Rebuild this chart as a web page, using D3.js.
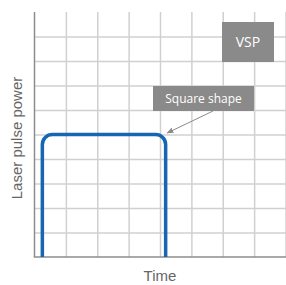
<!DOCTYPE html>
<html>
<head>
<meta charset="utf-8">
<script src="https://cdn.jsdelivr.net/npm/d3@7"></script>
<style>
  html, body { margin: 0; padding: 0; background: #fff; }
  svg { display: block; }
  .grid line { stroke: #d0d0d0; stroke-width: 1.5; }
  .grid path { display: none; }
</style>
</head>
<body>
<div id="chart"></div>
<script>
  // grid divisions (time columns, power rows)
  const timeTicks = [1, 2, 3, 4, 5, 6, 7, 8];
  const powerTicks = [1, 2, 3, 4, 5, 6, 7, 8, 9];

  // square pulse: [time, power]
  const pulsePoints = [[0.25, 0], [0.25, 5.0], [4.18, 5.0], [4.18, 0]];

  const labels = { x: "Time", y: "Laser pulse power", badge: "VSP", note: "Square shape" };

  const width = 286, height = 285;
  const margin = { top: 12, right: 0, bottom: 28, left: 34.5 };

  const x = d3.scaleLinear().domain([0, 8]).range([margin.left, width - margin.right - 0.5]);
  const y = d3.scaleLinear().domain([0, 10]).range([height - margin.bottom, margin.top]);

  const svg = d3.select("#chart").append("svg")
    .attr("width", width)
    .attr("height", height);

  // vertical grid
  svg.append("g").attr("class", "grid")
    .attr("transform", "translate(0," + y(0) + ")")
    .call(d3.axisBottom(x).tickValues(timeTicks).tickSize(-(y(0) - y(10))).tickFormat(""));

  // horizontal grid
  svg.append("g").attr("class", "grid")
    .attr("transform", "translate(" + x(0) + ",0)")
    .call(d3.axisLeft(y).tickValues(powerTicks).tickSize(-(x(8) - x(0) + 1)).tickFormat(""));

  // axes
  svg.append("line")
    .attr("x1", x(0)).attr("x2", x(0))
    .attr("y1", y(10)).attr("y2", y(0))
    .attr("stroke", "#8c8c8c").attr("stroke-width", 1.5);
  svg.append("line")
    .attr("x1", x(0) - 0.75).attr("x2", width)
    .attr("y1", y(0)).attr("y2", y(0))
    .attr("stroke", "#8c8c8c").attr("stroke-width", 1.5);

  // pulse with rounded top corners
  const r = 10;
  const p = d3.path();
  const pts = pulsePoints.map(d => [x(d[0]), y(d[1])]);
  p.moveTo(pts[0][0], pts[0][1]);
  p.arcTo(pts[1][0], pts[1][1], pts[2][0], pts[2][1], r);
  p.arcTo(pts[2][0], pts[2][1], pts[3][0], pts[3][1], r);
  p.lineTo(pts[3][0], pts[3][1]);
  svg.append("path")
    .attr("d", p.toString())
    .attr("fill", "none")
    .attr("stroke", "#1666b4")
    .attr("stroke-width", 3.5);

  // VSP badge
  const badge = svg.append("g");
  badge.append("rect")
    .attr("x", 222).attr("y", 22).attr("width", 52).attr("height", 40)
    .attr("fill", "#8a8a8a");
  badge.append("text")
    .attr("x", 248).attr("y", 42).attr("dy", "0.35em")
    .attr("text-anchor", "middle")
    .attr("fill", "#fff")
    .attr("font-family", "'Open Sans', sans-serif")
    .attr("font-size", 14)
    .text(labels.badge);

  // annotation
  svg.append("defs").append("marker")
    .attr("id", "arrow")
    .attr("viewBox", "0 0 10 10")
    .attr("refX", 9).attr("refY", 5)
    .attr("markerWidth", 7).attr("markerHeight", 7)
    .attr("orient", "auto")
    .append("path")
    .attr("d", "M0,1 L10,5 L0,9 Z")
    .attr("fill", "#8a8a8a");

  svg.append("line")
    .attr("x1", 213).attr("y1", 111)
    .attr("x2", x(pulsePoints[2][0]) + 1.5).attr("y2", y(pulsePoints[2][1]) - 1.5)
    .attr("stroke", "#8a8a8a").attr("stroke-width", 1)
    .attr("marker-end", "url(#arrow)");

  const note = svg.append("g");
  note.append("rect")
    .attr("x", 153).attr("y", 86).attr("width", 101).attr("height", 25)
    .attr("fill", "#8a8a8a");
  note.append("text")
    .attr("x", 203.5).attr("y", 98.5).attr("dy", "0.35em")
    .attr("text-anchor", "middle")
    .attr("fill", "#fff")
    .attr("font-family", "'Open Sans', sans-serif")
    .attr("font-size", 12)
    .text(labels.note);

  // axis titles
  svg.append("text")
    .attr("x", (x(0) + x(8)) / 2).attr("y", 276).attr("dy", "0.35em")
    .attr("text-anchor", "middle")
    .attr("fill", "#666")
    .attr("font-family", "'Liberation Sans', Arial, sans-serif")
    .attr("font-size", 15)
    .text(labels.x);

  svg.append("text")
    .attr("transform", "translate(17," + 138 + ") rotate(-90)")
    .attr("dy", "0.35em")
    .attr("text-anchor", "middle")
    .attr("fill", "#666")
    .attr("font-family", "'Liberation Sans', Arial, sans-serif")
    .attr("font-size", 15)
    .text(labels.y);
</script>
</body>
</html>
